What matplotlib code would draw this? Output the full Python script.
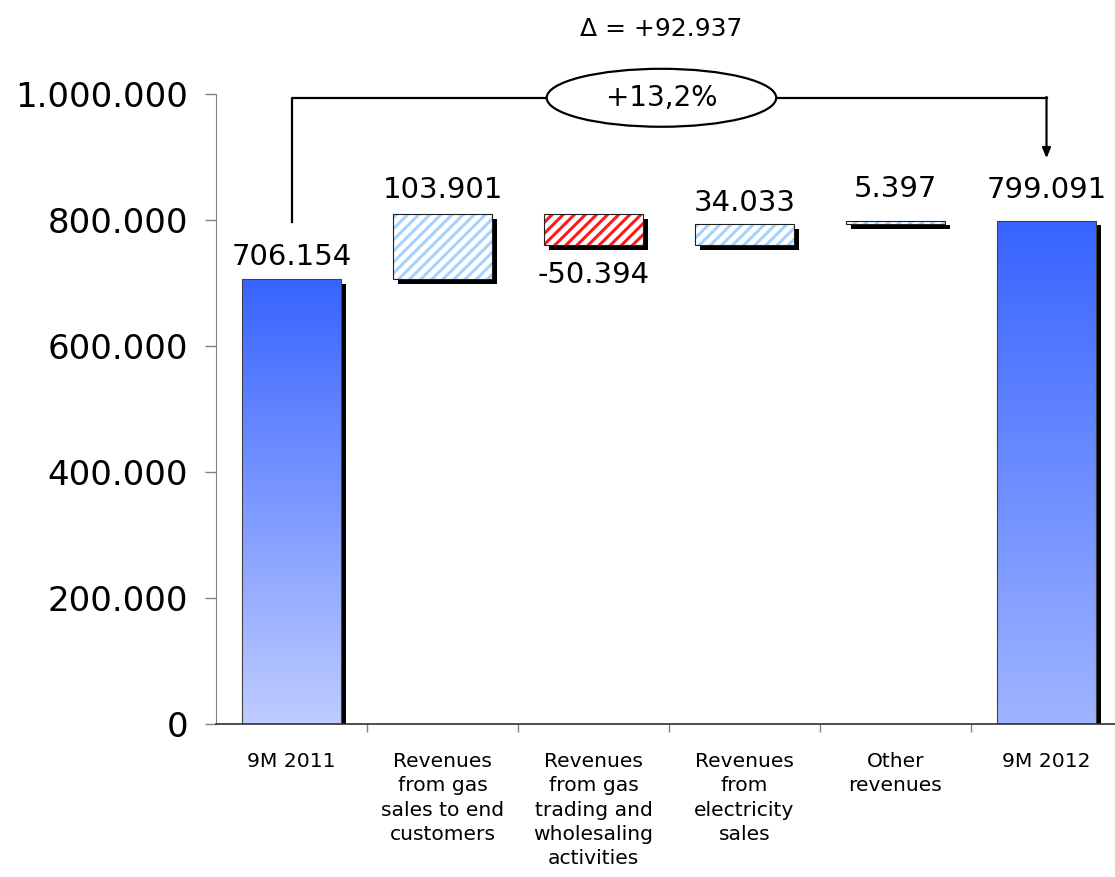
import numpy as np
import matplotlib
matplotlib.use("Agg")
import matplotlib.pyplot as plt
import matplotlib.patheffects as pe
from matplotlib.patches import Ellipse, Rectangle

# --- data -------------------------------------------------------------
categories = [
    "9M 2011",
    "Revenues\nfrom gas\nsales to end\ncustomers",
    "Revenues\nfrom gas\ntrading and\nwholesaling\nactivities",
    "Revenues\nfrom\nelectricity\nsales",
    "Other\nrevenues",
    "9M 2012",
]
start_total = 706154
deltas = [103901, -50394, 34033, 5397]
end_total = 799091
change_abs = 92937
change_pct = "+13,2%"
y_ticks = [0, 200000, 400000, 600000, 800000, 1000000]

# --- styling ----------------------------------------------------------
plt.rcParams["font.family"] = ["DejaVu Sans"]
plt.rcParams["hatch.linewidth"] = 2.2

BAR_W = 0.66
SHADOW = [pe.SimplePatchShadow(offset=(3.5, -3.5), shadow_rgbFace="black", alpha=1.0),
          pe.Normal()]


def fmt(v):
    s = f"{abs(v):,}".replace(",", ".")
    return ("-" if v < 0 else "") + s


fig = plt.figure(figsize=(11.15, 8.77), dpi=100)
ax = fig.add_axes([216 / 1115, 153 / 877, 906 / 1115, 630 / 877])
ax.set_xlim(-0.5, 5.5)
ax.set_ylim(0, 1000000)

x = np.arange(len(categories))


def gradient_bar(xc, height, top_col, bot_col):
    rect = Rectangle((xc - BAR_W / 2, 0), BAR_W, height, facecolor="black",
                     edgecolor="none", zorder=2, path_effects=SHADOW)
    ax.add_patch(rect)
    top = np.array(matplotlib.colors.to_rgb(top_col))
    bot = np.array(matplotlib.colors.to_rgb(bot_col))
    t = np.linspace(0, 1, 256)[:, None]
    img = (top * (1 - t) + bot * t)[:, None, :]
    im = ax.imshow(img, extent=(xc - BAR_W / 2, xc + BAR_W / 2, 0, height),
                   aspect="auto", origin="upper", zorder=2.5, interpolation="bilinear")
    im.set_clip_path(rect)
    ax.add_patch(Rectangle((xc - BAR_W / 2, 0), BAR_W, height, facecolor="none",
                           edgecolor="#404040", linewidth=0.8, zorder=3))


def hatched_bar(xc, bottom, height, hatch_col):
    ax.add_patch(Rectangle((xc - BAR_W / 2, bottom), BAR_W, height, facecolor="white",
                           edgecolor="none", zorder=2, path_effects=SHADOW))
    ax.add_patch(Rectangle((xc - BAR_W / 2, bottom), BAR_W, height, facecolor="white",
                           edgecolor=hatch_col, linewidth=0, hatch="///", zorder=2.5))
    ax.add_patch(Rectangle((xc - BAR_W / 2, bottom), BAR_W, height, facecolor="none",
                           edgecolor="#202020", linewidth=0.8, zorder=3))


# totals
gradient_bar(x[0], start_total, "#3864ff", "#bfccff")
gradient_bar(x[-1], end_total, "#3864ff", "#9fb4ff")

# floating changes
level = start_total
for i, d in enumerate(deltas, start=1):
    bottom = level if d >= 0 else level + d
    col = "#ff1a1a" if d < 0 else "#a6d2ff"
    hatched_bar(x[i], bottom, abs(d), col)
    level += d

# value labels
label_font = dict(fontsize=21, ha="center")
ax.annotate(fmt(start_total), (x[0], start_total), xytext=(0, 6),
            textcoords="offset points", va="bottom", **label_font)
level = start_total
offsets = [7, -11, 5, 13]
for i, d in enumerate(deltas, start=1):
    if d >= 0:
        ax.annotate(fmt(d), (x[i], level + d), xytext=(0, offsets[i - 1]),
                    textcoords="offset points", va="bottom", **label_font)
    else:
        ax.annotate(fmt(d), (x[i], level + d), xytext=(0, offsets[i - 1]),
                    textcoords="offset points", va="top", **label_font)
    level += d
ax.annotate(fmt(end_total), (x[-1], end_total), xytext=(0, 12),
            textcoords="offset points", va="bottom", **label_font)

# axes
ax.set_yticks(y_ticks)
ax.set_yticklabels([fmt(v) for v in y_ticks], fontsize=24.5)
ax.tick_params(axis="y", direction="out", length=8, width=1, color="#808080", pad=12)
ax.set_xticks(x)
ax.set_xticklabels(categories, fontsize=14.6, linespacing=1.36, va="top")
ax.tick_params(axis="x", which="major", length=0, pad=20)
ax.set_xticks(np.arange(0.5, 5.0, 1.0), minor=True)
ax.tick_params(axis="x", which="minor", direction="out", length=6, width=1, color="#808080")
for s in ("top", "right"):
    ax.spines[s].set_visible(False)
ax.spines["left"].set_color("#808080")
ax.spines["bottom"].set_color("#303030")
ax.spines["bottom"].set_linewidth(1.2)

# change bracket with ellipse
y_br = 994000
ex, ew, eh = 2.45, 1.52, 92000
line_kw = dict(color="black", linewidth=1.6, clip_on=False, zorder=4)
ax.plot([x[0], x[0], ex - ew / 2], [797000, y_br, y_br], **line_kw)
ax.plot([ex + ew / 2, x[-1]], [y_br, y_br], **line_kw)
ax.annotate("", xy=(x[-1], 898000), xytext=(x[-1], y_br + 1200),
            arrowprops=dict(arrowstyle="-|>,head_length=0.6,head_width=0.25",
                            color="black", linewidth=1.6, shrinkA=0, shrinkB=0),
            annotation_clip=False)
ax.add_patch(Ellipse((ex, y_br), ew, eh, facecolor="white", edgecolor="black",
                     linewidth=1.6, clip_on=False, zorder=5))
ax.text(ex, y_br, change_pct, fontsize=20, ha="center", va="center", zorder=6)
ax.text(ex, 1103000, "\u0394 = +" + fmt(change_abs), fontsize=18, ha="center",
        va="center", clip_on=False)

fig.savefig("out.png", dpi=100)
